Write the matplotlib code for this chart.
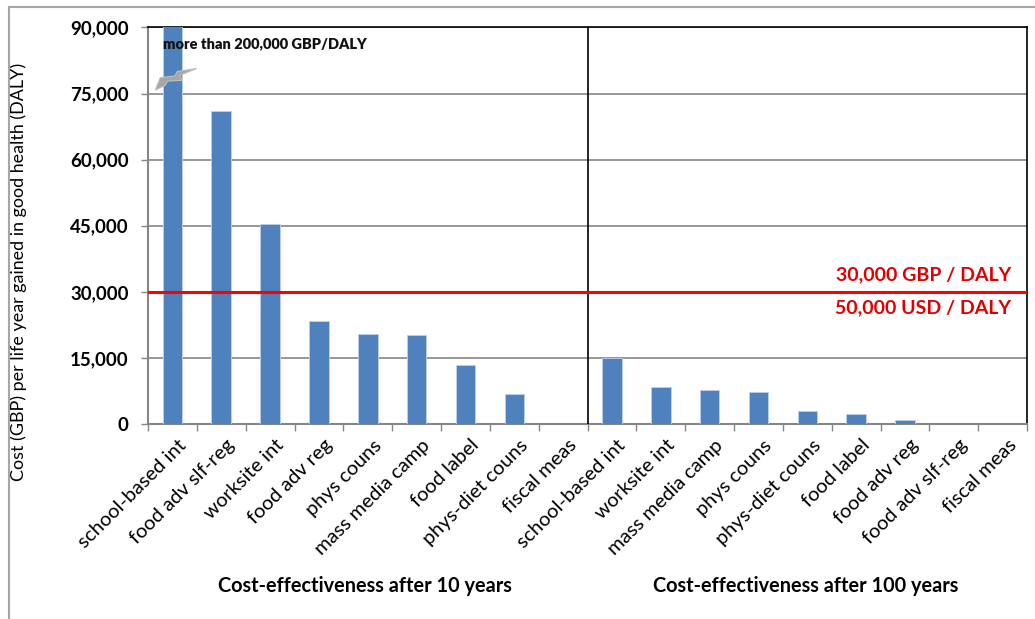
import numpy as np
import matplotlib.pyplot as plt
from matplotlib.patches import Polygon
from matplotlib.lines import Line2D

# ==========================
# Data
# ==========================
labels_10y = ["school-based int", "food adv slf-reg", "worksite int", "food adv reg",
              "phys couns", "mass media camp", "food label", "phys-diet couns",
              "fiscal meas"]
values_10y = [200000, 71000, 45400, 23400, 20400, 20100, 13300, 6900, 0]

labels_100y = ["school-based int", "worksite int", "mass media camp", "phys couns",
               "phys-diet couns", "food label", "food adv reg", "food adv slf-reg",
               "fiscal meas"]
values_100y = [15000, 8300, 7700, 7300, 2900, 2200, 850, 100, 0]

threshold = 30000
y_max = 90000
y_ticks = [0, 15000, 30000, 45000, 60000, 75000, 90000]

labels = labels_10y + labels_100y
values = values_10y + values_100y
x = np.arange(len(labels))

# ==========================
# Figure
# ==========================
fig = plt.figure(figsize=(10.35, 6.19), dpi=100)
ax = fig.add_axes([0.143, 0.315, 0.8494, 0.6407])

font = "Lato"
bar_color = "#4F81BD"
grid_color = "#868686"

ax.bar(x, values, width=0.4, color=bar_color, edgecolor="#BCD0E8",
       linewidth=0.6, zorder=3)

ax.set_xlim(-0.5, len(labels) - 0.5)
ax.set_ylim(0, y_max)

# gridlines and y ticks
ax.set_yticks(y_ticks)
ax.set_yticklabels([f"{v:,}" for v in y_ticks], fontfamily=font,
                   fontweight="bold", fontsize=13.5)
ax.yaxis.grid(True, color=grid_color, linewidth=1.2, zorder=0)
ax.tick_params(axis="y", length=5, width=1, color=grid_color, pad=9)

# category labels at bar centres, tick marks at category boundaries
ax.set_xticks(x + 0.1)
ax.set_xticklabels(labels, rotation=45, ha="right", rotation_mode="anchor",
                   fontfamily=font, fontsize=14.5)
ax.tick_params(axis="x", which="major", length=0, pad=9)
ax.set_xticks(np.arange(-0.5, len(labels), 1.0), minor=True)
ax.tick_params(axis="x", which="minor", length=5, width=1, color=grid_color)

for side in ["left", "bottom"]:
    ax.spines[side].set_color(grid_color)
    ax.spines[side].set_linewidth(1.5)
for side in ["top", "right"]:
    ax.spines[side].set_color("black")
    ax.spines[side].set_linewidth(1.2)

ax.set_ylabel("Cost (GBP) per life year gained in good health (DALY)",
              fontfamily=font, fontsize=12.9)
ax.yaxis.set_label_coords(-0.138, 0.383)

# separator between the two horizons
ax.axvline(len(labels_10y) - 0.5, color="black", linewidth=1.2, zorder=4)

# threshold line
ax.axhline(threshold, color="#FF0000", linewidth=2.2, zorder=5)
ax.text(len(labels) - 0.83, threshold + 2000, "30,000 GBP / DALY", color="#E00000",
        fontfamily=font, fontweight="bold", fontsize=14, ha="right", va="bottom")
ax.text(len(labels) - 0.83, threshold - 1700, "50,000 USD / DALY", color="#E00000",
        fontfamily=font, fontweight="bold", fontsize=14, ha="right", va="top")

# off-scale bar note and break mark
ax.text(-0.2, 86400, "more than 200,000 GBP/DALY", fontfamily=font,
        fontweight="heavy", fontsize=10.5, ha="left", va="center", color="#111111",
        zorder=6)
bx = x[0]
brk = Polygon([(bx - 0.35, 75800), (bx - 0.25, 78600), (bx + 0.05, 79000),
               (bx + 0.1, 80000), (bx + 0.5, 80700), (bx + 0.15, 79100),
               (bx + 0.2, 78000), (bx - 0.1, 77800), (bx - 0.15, 76800)],
              closed=True, facecolor="#A6A6A6", edgecolor="#BFBFBF",
              linewidth=0.8, zorder=6)
ax.add_patch(brk)

# group captions
fig.text(0.3527, 0.054, "Cost-effectiveness after 10 years", fontfamily=font,
         fontweight="bold", fontsize=14.3, ha="center", va="center")
fig.text(0.778, 0.054, "Cost-effectiveness after 100 years", fontfamily=font,
         fontweight="bold", fontsize=14.3, ha="center", va="center")

# outer chart frame
fig.add_artist(Line2D([0.0087, 0.0087], [0.0, 0.989], color="#A6A6A6",
                      linewidth=1.5, transform=fig.transFigure))
fig.add_artist(Line2D([0.0087, 1.0], [0.989, 0.989], color="#A6A6A6",
                      linewidth=1.5, transform=fig.transFigure))

fig.savefig("out.png", dpi=100, facecolor="white")
